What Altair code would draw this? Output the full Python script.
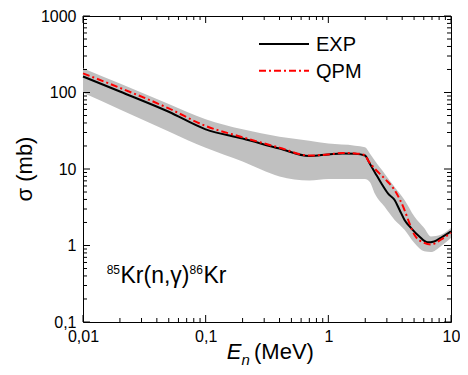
import altair as alt
import pandas as pd

# ---- data ----
E_exp = [0.01, 0.02, 0.05, 0.1, 0.2, 0.4, 0.7, 1.0, 1.3, 1.65, 1.99, 2.18, 2.39, 2.71, 3.06, 3.47, 3.81, 4.18, 4.73, 5.52, 6.44, 7.29, 8.5, 10.0]
S_exp = [162, 103, 56, 33, 25, 18.5, 14.8, 15.5, 16.0, 15.8, 15.0, 11.7, 9.1, 6.45, 4.79, 3.93, 2.91, 2.16, 1.69, 1.31, 1.10, 1.13, 1.3, 1.53]

E_qpm = [0.01, 0.02, 0.05, 0.1, 0.2, 0.4, 0.7, 1.0, 1.3, 1.65, 1.99, 2.11, 2.39, 2.88, 3.47, 4.18, 4.58, 5.03, 6.05, 6.86, 8.26, 10.0]
S_qpm = [178, 115, 62, 36.5, 26, 19, 15, 15.5, 16.2, 16.0, 15.2, 12.9, 10.1, 7.48, 5.29, 2.91, 1.96, 1.38, 1.08, 1.03, 1.19, 1.46]

E_band = [0.01, 0.02, 0.05, 0.1, 0.2, 0.4, 0.7, 1.0, 1.65, 1.99, 2.18, 2.39, 2.88, 3.47, 4.18, 5.03, 6.05, 6.86, 8.26, 10.0]
S_band_lo = [99, 60, 31, 18.9, 12.5, 8.0, 7.1, 7.4, 7.4, 7.4, 6.77, 4.79, 3.21, 2.16, 1.61, 1.08, 0.84, 0.82, 0.98, 1.25]
S_band_hi = [208, 131, 71, 44.8, 33, 26.4, 23.4, 21.5, 20.2, 19.2, 16.0, 12.9, 8.7, 5.8, 3.93, 2.39, 1.69, 1.31, 1.38, 1.69]

x_major = [0.01, 0.1, 1, 10]
x_minor = [0.02, 0.03, 0.04, 0.05, 0.06, 0.07, 0.08, 0.09,
           0.2, 0.3, 0.4, 0.5, 0.6, 0.7, 0.8, 0.9,
           2, 3, 4, 5, 6, 7, 8, 9]
y_major = [0.1, 1, 10, 100, 1000]
y_minor = [0.2, 0.3, 0.4, 0.5, 0.6, 0.7, 0.8, 0.9,
           2, 3, 4, 5, 6, 7, 8, 9,
           20, 30, 40, 50, 60, 70, 80, 90,
           200, 300, 400, 500, 600, 700, 800, 900]

series_names = ["EXP", "QPM"]

W, H = 368, 306
FONT = "Liberation Sans"

xscale = alt.Scale(type="log", domain=[0.01, 10], nice=False)
yscale = alt.Scale(type="log", domain=[0.1, 1000], nice=False)
label_expr = "replace(toString(datum.value), '.', ',')"

xaxis = alt.Axis(values=x_major, labelExpr=label_expr, tickSize=0, domain=False, grid=False,
                 title=None, labelFont=FONT, labelFontSize=16, labelColor="black",
                 labelPadding=6, labelFlush=False)
yaxis = alt.Axis(values=y_major, labelExpr=label_expr, tickSize=0, domain=False, grid=False,
                 title=None, labelFont=FONT, labelFontSize=16, labelColor="black",
                 labelPadding=7)

X = alt.X("E:Q", scale=xscale, axis=xaxis)
Y = alt.Y("S:Q", scale=yscale, axis=yaxis)

df_band = pd.DataFrame({"E": E_band, "S": S_band_lo, "S2": S_band_hi})
df_exp = pd.DataFrame({"E": E_exp, "S": S_exp})
df_qpm = pd.DataFrame({"E": E_qpm, "S": S_qpm})
one = pd.DataFrame({"a": [0]})

band = alt.Chart(df_band).mark_area(color="#c0c0c0", opacity=1, interpolate="monotone").encode(
    x=X, y=Y, y2="S2:Q")
exp_line = alt.Chart(df_exp).mark_line(color="black", strokeWidth=2, interpolate="monotone").encode(x=X, y=Y)
qpm_line = alt.Chart(df_qpm).mark_line(color="#ff0000", strokeWidth=2, strokeDash=[7, 3, 2, 3],
                                        interpolate="monotone").encode(x=X, y=Y)

def xticks(vals, length):
    d = pd.DataFrame({"E": vals})
    b = alt.Chart(d).mark_rule(color="black", strokeWidth=1).encode(x=X, y=alt.value(H), y2=alt.value(H - length))
    t = alt.Chart(d).mark_rule(color="black", strokeWidth=1).encode(x=X, y=alt.value(0), y2=alt.value(length))
    return [b, t]

def yticks(vals, length):
    d = pd.DataFrame({"S": vals})
    l = alt.Chart(d).mark_rule(color="black", strokeWidth=1).encode(y=Y, x=alt.value(0), x2=alt.value(length))
    r = alt.Chart(d).mark_rule(color="black", strokeWidth=1).encode(y=Y, x=alt.value(W), x2=alt.value(W - length))
    return [l, r]

ticks = xticks(x_major, 7) + xticks(x_minor, 4) + yticks(y_major, 7) + yticks(y_minor, 4)

# legend
leg_exp = alt.Chart(one).mark_rule(color="black", strokeWidth=2).encode(
    x=alt.value(176), x2=alt.value(226), y=alt.value(28))
leg_qpm = alt.Chart(one).mark_rule(color="#ff0000", strokeWidth=2, strokeDash=[7, 3, 2, 3]).encode(
    x=alt.value(176), x2=alt.value(226), y=alt.value(54.7))
leg_t1 = alt.Chart(one).mark_text(text=series_names[0], font=FONT, fontSize=20, align="left",
                                  baseline="middle", color="black").encode(x=alt.value(233), y=alt.value(29))
leg_t2 = alt.Chart(one).mark_text(text=series_names[1], font=FONT, fontSize=20, align="left",
                                  baseline="middle", color="black").encode(x=alt.value(233), y=alt.value(55.7))

# annotation 85Kr(n,γ)86Kr
def txt(s, x, y, size, style="normal"):
    return alt.Chart(one).mark_text(text=s, font=FONT, fontSize=size, align="left", baseline="alphabetic",
                                    color="black", fontStyle=style).encode(x=alt.value(x), y=alt.value(y))

ann = [txt("85", 23.7, 257.5, 12), txt("Kr(n,γ)", 37.5, 267.3, 23), txt("86", 106.5, 257.5, 12),
       txt("Kr", 120.5, 267.3, 23)]

# axis titles
xt = [txt("E", 143.7, 343, 22, "italic"), txt("n", 158.5, 349, 15, "italic"), txt("(MeV)", 171, 343, 22)]
yt = alt.Chart(one).mark_text(text="σ (mb)", font=FONT, fontSize=22, angle=270, align="center",
                              baseline="middle", color="black").encode(x=alt.value(-58), y=alt.value(153))

chart = alt.layer(band, exp_line, qpm_line, *ticks, leg_exp, leg_qpm, leg_t1, leg_t2, *ann, *xt, yt).properties(
    width=W, height=H,
    autosize=alt.AutoSizeParams(type="none"),
    padding={"left": 75, "top": 8, "right": 9, "bottom": 45},
).configure_view(stroke="black", strokeWidth=1)

chart.save("out.html", embed_options={"renderer": "svg", "actions": False})
